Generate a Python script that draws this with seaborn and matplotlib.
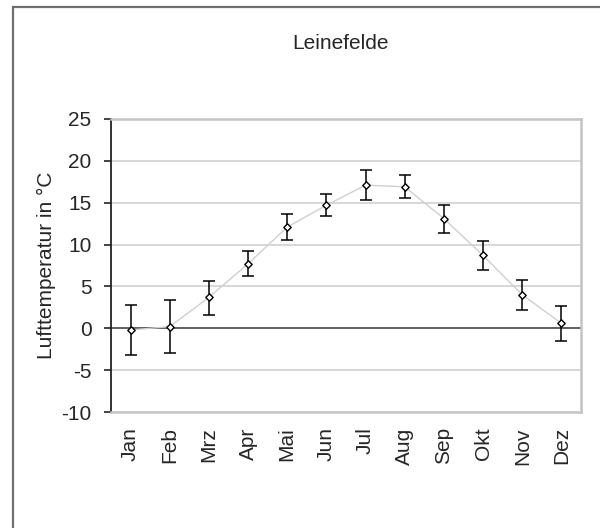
import matplotlib
matplotlib.use("Agg")
import matplotlib.pyplot as plt
import seaborn as sns
import pandas as pd
import numpy as np
from matplotlib.patches import Rectangle

months = ["Jan", "Feb", "Mrz", "Apr", "Mai", "Jun", "Jul", "Aug", "Sep", "Okt", "Nov", "Dez"]
temp = [-0.2, 0.2, 3.7, 7.7, 12.1, 14.7, 17.1, 16.9, 13.1, 8.7, 4.0, 0.6]
upper = [2.8, 3.4, 5.7, 9.2, 13.6, 16.0, 18.9, 18.3, 14.7, 10.4, 5.8, 2.7]
lower = [-3.2, -2.9, 1.6, 6.2, 10.6, 13.4, 15.3, 15.6, 11.4, 7.0, 2.2, -1.5]
yticks = [-10, -5, 0, 5, 10, 15, 20, 25]
title = "Leinefelde"
ylabel = "Lufttemperatur in °C"

sns.set_theme(style="white")
plt.rcParams["font.family"] = ["Liberation Sans", "DejaVu Sans"]

df = pd.DataFrame({"month": months, "temp": temp, "upper": upper, "lower": lower})
df["pos"] = np.arange(len(months))

fig = plt.figure(figsize=(6.0, 5.28), dpi=100)
fig.patch.set_facecolor("white")
# outer frame (clipped at right and bottom edges)
fig.patches.append(Rectangle((12.5 / 600, -0.05), 1.2, 1 - 6.5 / 528 + 0.05,
                             transform=fig.transFigure, fill=False,
                             edgecolor="#6f6f6f", linewidth=1.6, zorder=0))

ax = fig.add_axes([111 / 600, 1 - 412 / 528, 470 / 600, 293 / 528])

ax.set_ylim(-10, 25)
ax.set_xlim(-0.5, len(months) - 0.5)
for yt in yticks:
    if yt not in (0, 25, -10):
        ax.axhline(yt, color="#d4d4d4", lw=1.3, zorder=1)
ax.axhline(0, color="#333333", lw=1.1, zorder=2)

sns.lineplot(data=df, x="pos", y="temp", ax=ax, color="#d0d0d0", lw=1.0,
             zorder=3, legend=False)
yerr = [np.array(temp) - np.array(lower), np.array(upper) - np.array(temp)]
ax.errorbar(df["pos"], df["temp"], yerr=yerr, fmt="none", ecolor="black",
            elinewidth=1.1, capsize=4, capthick=1.1, zorder=4)
sns.scatterplot(data=df, x="pos", y="temp", ax=ax, marker="D", s=14,
                facecolor="white", edgecolor="black", linewidth=1.0, zorder=5)

ax.set_xticks(df["pos"])
ax.set_xticklabels(months, rotation=90, fontsize=15)
ax.set_yticks(yticks)
ax.set_yticklabels([str(v) for v in yticks], fontsize=15)
ax.tick_params(axis="x", length=0, pad=11)
ax.tick_params(axis="y", length=5, width=1.2, color="#222222", pad=9, left=True)
ax.set_xlabel("")
ax.set_ylabel(ylabel, fontsize=15, labelpad=4)

for side in ["top", "right", "bottom"]:
    ax.spines[side].set_color("#c4c4c4")
    ax.spines[side].set_linewidth(1.8)
ax.spines["left"].set_color("#222222")
ax.spines["left"].set_linewidth(1.3)

fig.text(340 / 600, 1 - 43.5 / 528, title, ha="center", va="center", fontsize=15)

fig.savefig("out.png", dpi=100)
